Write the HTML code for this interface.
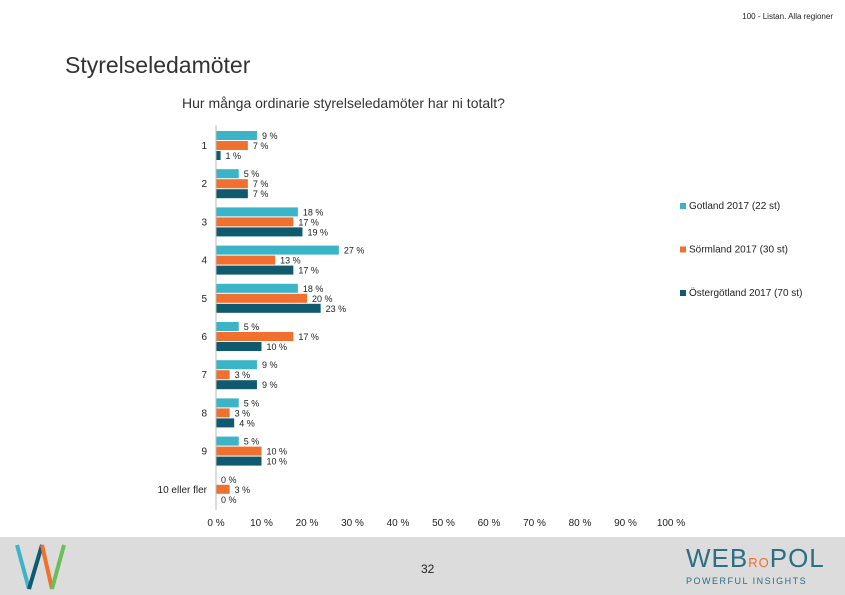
<!DOCTYPE html>
<html><head><meta charset="utf-8"><style>
body{margin:0;width:845px;height:595px;position:relative;background:#fff;font-family:"Liberation Sans",sans-serif;overflow:hidden}
.t{position:absolute;white-space:nowrap;color:#222}
</style></head><body>
<div class="t" style="right:12px;top:12px;font-size:8px">100 - Listan. Alla regioner</div>
<div class="t" style="left:65px;top:52px;font-size:23px;color:#333">Styrelseledamöter</div>
<div class="t" style="left:182px;top:95px;font-size:14px;color:#333">Hur många ordinarie styrelseledamöter har ni totalt?</div>
<svg id="chart" width="845" height="595" style="position:absolute;left:0;top:0"></svg>
<div style="position:absolute;left:0;top:537px;width:845px;height:58px;background:#dcdcdc">
<svg width="60" height="58" style="position:absolute;left:12px;top:0">
<line x1="5" y1="8" x2="17" y2="52" stroke="#3cb4c8" stroke-width="4"/>
<line x1="17" y1="52" x2="30" y2="8" stroke="#0f5a6e" stroke-width="4"/>
<line x1="30" y1="8" x2="40" y2="52" stroke="#f07030" stroke-width="4"/>
<line x1="40" y1="52" x2="52" y2="8" stroke="#6abf5a" stroke-width="4"/>
</svg>
<div class="t" style="left:421px;top:25px;font-size:12px">32</div>
<div class="t" style="left:686px;top:6px;font-size:26px;color:#2a6f85;letter-spacing:1px">WEB<span style="color:#f07030;font-size:13px">RO</span>POL</div>
<div class="t" style="left:686px;top:39px;font-size:9px;color:#2a6f85;letter-spacing:1.5px">POWERFUL INSIGHTS</div>
</div>
<script>
const categories=["1","2","3","4","5","6","7","8","9","10 eller fler"];
const gotland=[9,5,18,27,18,5,9,5,5,0];
const sormland=[7,7,17,13,20,17,3,3,10,3];
const ostergotland=[1,7,19,17,23,10,9,4,10,0];
const seriesNames=["Gotland 2017 (22 st)","Sörmland 2017 (30 st)","Östergötland 2017 (70 st)"];
const colors=["#3cb4c8","#f07030","#0f5a6e"];
const ticks=[0,10,20,30,40,50,60,70,80,90,100];
const NS="http://www.w3.org/2000/svg";
const svg=document.getElementById('chart');
const x=v=>216+v*4.55;
const yc=i=>145+i*38.2;
function mk(t,a){const e=document.createElementNS(NS,t);for(const k in a)e.setAttribute(k,a[k]);svg.appendChild(e);return e;}
const series=[gotland,sormland,ostergotland];
categories.forEach((c,i)=>{
  const l=mk('text',{x:207,y:yc(i)+4,'text-anchor':'end','font-size':10,fill:'#222'});
  l.textContent=c;
  
  
  series.forEach((s,j)=>{
    const y=yc(i)-14+j*10;
    const r=mk('rect',{x:x(0),y:y,width:x(s[i])-x(0),height:9,fill:colors[j]});
    
    
    const t=mk('text',{x:x(s[i])+5,y:y+8,'font-size':9,fill:'#222'});
    t.textContent=s[i]+' %';
    
    
  });
});
const ax=mk('line',{x1:216,y1:125,x2:216,y2:510,stroke:'#bbb'});


ticks.forEach(v=>{
  const t=mk('text',{x:x(v),y:526,'text-anchor':'middle','font-size':10,fill:'#222'});
  t.textContent=v+' %';
  
  
});
seriesNames.forEach((n,j)=>{
  const y=209+j*43.5;
  const r=mk('rect',{x:680,y:y-6,width:6,height:6,fill:colors[j]});
  
  
  const t=mk('text',{x:689,y:y,'font-size':10,fill:'#222'});
  t.textContent=n;
  
  
});
</script>
</body></html>
